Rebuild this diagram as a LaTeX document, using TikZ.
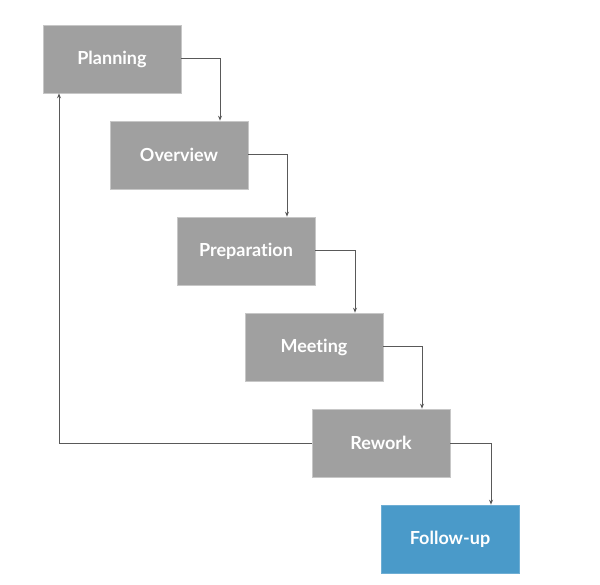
\documentclass[tikz,border=0pt]{standalone}
\usepackage{fontspec}
\setmainfont{Lato}[Ligatures=NoCommon]
\usetikzlibrary{arrows.meta}

\definecolor{boxgray}{HTML}{A0A0A0}
\definecolor{boxblue}{HTML}{4A9AC9}

\begin{document}
\begin{tikzpicture}
  [x=1pt, y=-1pt,
    every node/.style={rectangle, minimum width=138pt, minimum height=68pt,
      inner sep=0pt, text=white, font=\fontsize{18}{21}\selectfont\bfseries},
    phase/.style={fill=boxgray, draw=black!22, line width=0.6pt},
    last/.style={fill=boxblue, draw=boxblue!80, line width=0.6pt},
    flow/.style={draw=black!65, line width=1pt, -{Stealth[length=5pt, width=4pt]}},
]
  \useasboundingbox (0,0) rectangle (600,585);

  \node[phase] (planning) at (112,59) {Planning};
  \node[phase] (overview) at (179,155) {Overview};
  \node[phase] (preparation) at (246,251) {Preparation};
  \node[phase] (meeting) at (314,347) {Meeting};
  \node[phase] (rework) at (381,443) {Rework};
  \node[last] (followup) at (450,539) {Follow-up};

  \foreach \from/\to in {planning/overview, overview/preparation,
    preparation/meeting, meeting/rework, rework/followup}
    \draw[flow] (\from.east) -| ([xshift=41pt]\to.north);

  \draw[flow] (rework.west) -| ([xshift=-53pt]planning.south);
\end{tikzpicture}
\end{document}
